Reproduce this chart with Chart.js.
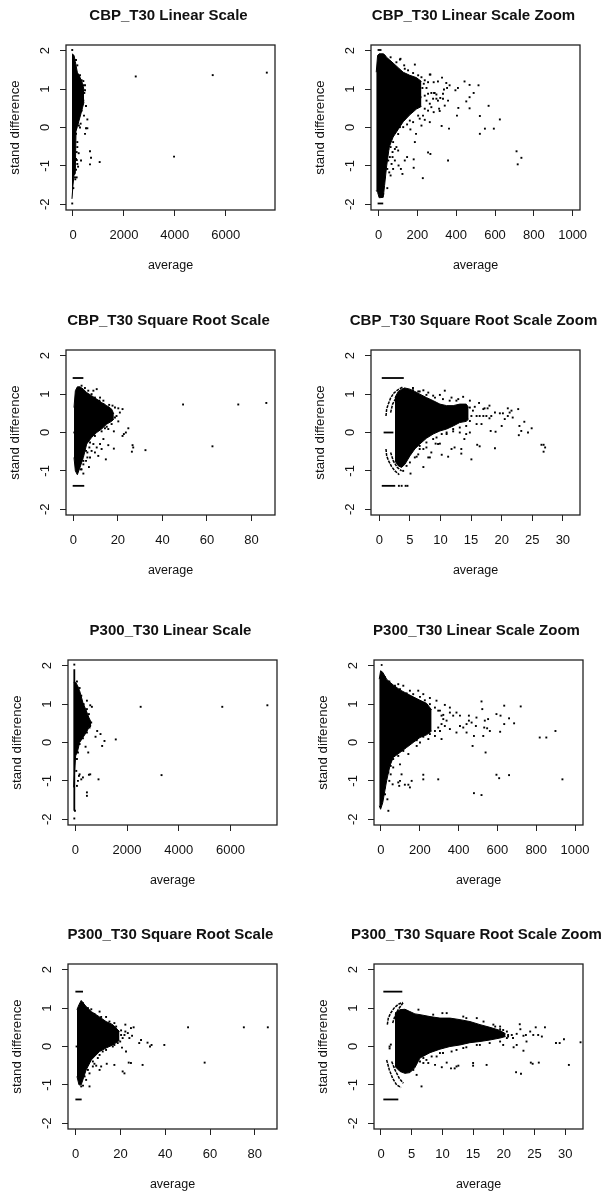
<!DOCTYPE html>
<html>
<head>
<meta charset="utf-8">
<title>Stand difference vs average</title>
<script src="https://cdn.jsdelivr.net/npm/chart.js@4"></script>
<style>
	html, body { margin: 0; padding: 0; background: #fff; overflow: hidden; }
	body { position: relative; width: 606px; height: 1192px; }
	canvas { position: absolute; filter: blur(0.35px); }
</style>
</head>
<body>
<script>
// ============= Data =============

const yTicks = [ -2, -1, 0, 1, 2 ];
const linearTicks = [ 0, 2000, 4000, 6000 ];
const linearZoomTicks = [ 0, 200, 400, 600, 800, 1000 ];
const sqrtTicks = [ 0, 20, 40, 60, 80 ];
const sqrtZoomTicks = [ 0, 5, 10, 15, 20, 25, 30 ];

// Solid part of each cloud: x, upper edge, lower edge
const cbpLinearX = [ -40, 0, 40, 90, 118, 170, 275, 380, 432 ];
const cbpLinearTop = [ 1.92, 1.9, 1.88, 1.72, 1.62, 1.44, 1.31, 1.14, 0.97 ];
const cbpLinearLow = [ -1.86, -1.5, -1.25, -1.2, -0.1, 0.02, 0.27, 0.53, 0.66 ];
const cbpLinearPoints = [
	[2465, 1.33], [5490, 1.365], [7615, 1.43], [3970, -0.76], [668, -0.62], [708, -0.79], [668, -0.96], [1048, -0.9],
	[315, -0.86], [223, -0.67], [170, -0.38], [144, -1.3], [13, -1.58], [511, -0.02], [564, -0.02], [564, 0.21],
	[472, -0.165], [275, 0], [118, -0.165], [511, 0.56], [432, 0.31], [445, 0.9], [406, 1.21], [472, 1.1], [406, 0.7],
	[340, 0.44], [-30, 2.02], [-30, -1.98], [150, -0.85], [120, -1.1], [200, -1.02], [90, -1.35], [300, 0.1], [230, 0.05],
	[340, 1.23], [406, 1.1], [472, 0.97], [275, 1.36], [170, 1.62], [118, 1.76], [340, 0.79], [275, 0.4], [210, 0.27],
	[170, 0.1], [118, -0.03], [170, -0.51], [144, -0.64], [118, -0.82], [170, -0.95], [79, -1.3]
];

const cbpLinearZoomX = [ -12, -5, 3, 24, 31, 41, 55, 75, 101, 127, 161, 195, 221 ];
const cbpLinearZoomTop = [ 1.44, 1.88, 1.92, 1.92, 1.9, 1.83, 1.77, 1.68, 1.56, 1.44, 1.36, 1.3, 1.2 ];
const cbpLinearZoomLow = [ -1.64, -1.69, -1.83, -1.82, -1.51, -1.03, -0.51, -0.25, -0.05, 0.15, 0.33, 0.48, 0.55 ];
const cbpLinearZoomPoints = [
	[515, 1.1], [469, 1.11], [443, 1.2], [490, 0.9], [469, 0.79], [452, 0.68], [469, 0.5], [411, 0.51], [404, 0.31],
	[567, 0.565], [522, 0.3], [625, 0.21], [548, -0.03], [594, -0.03], [522, -0.165], [363, -0.03], [325, 0.04],
	[711, -0.62], [736, -0.79], [717, -0.96], [358, -0.86], [228, -1.32], [255, -0.65], [267, -0.69], [181, -0.83],
	[181, -1.05], [187, -0.38], [193, -0.165], [123, -1.21], [45, -1.58], [147, -0.77], [135, -0.86], [103, -0.99],
	[115, -1.08], [187, 1.64], [110, 1.77], [132, 1.62], [327, 1.3], [306, 1.2], [284, 1.18], [264, 1.38], [349, 1.16],
	[366, 1.1], [409, 1.03], [396, 0.97], [337, 0.99], [289, 0.9], [238, 1.23], [255, 1.18], [233, 1.14], [247, 1.03],
	[267, 1.38], [255, 0.88], [272, 0.9], [238, 0.83], [247, 0.7], [264, 0.62], [272, 0.53], [238, 0.49], [284, 0.4],
	[229, 0.31], [255, 0.44], [264, 0.14], [238, 0.2], [212, 0.23], [221, 0.05], [178, 0.14], [204, 0.31], [161, 0.18],
	[147, 0.08], [127, 0.01], [110, 0.01], [164, -0.05], [101, -0.17], [75, -0.38], [286, 0.9], [298, 0.86], [281, 0.75],
	[298, 0.75], [306, 0.7], [318, 0.77], [332, 0.88], [312, 0.49], [315, 0.43], [341, 0.57], [358, 0.7], [332, 0.75],
	[353, 1.03], [41, -0.43], [50, -0.56], [62, -0.51], [72, -0.64], [84, -0.56], [92, -0.51], [101, -0.6], [45, -1.08],
	[55, -1.17], [62, -1.25], [84, -0.86], [75, -1.08], [67, -0.95], [50, -0.86], [33, -1.02], [41, -0.77], [58, -0.77], [72, -0.77],
	[62, 1.83], [92, 1.7], [113, 1.79], [135, 1.53], [152, 1.49], [178, 1.42], [204, 1.36], [221, 1.31], [209, 1.18],
	[226, 1.03], [216, 0.79], [204, 0.66], [187, 0.55], [158, 0.44], [135, 0.31], [113, 0.23], [92, 0.11], [79, -0.03],
	[62, -0.25], [50, -0.43], [41, -0.6], [38, -0.86], [33, -1.3], [24, -1.73]
];
const cbpLinearZoomRuns = [
	[[-5, 2.02], [15, 2.02]],
	[[-5, -1.98], [24, -1.98]]
];

const cbpSqrtX = [ 0.3, 0.9, 1.8, 3, 4.5, 6, 8.2, 10.5, 12.7, 15, 17.2, 18.2 ];
const cbpSqrtTop = [ 0.65, 1.09, 1.19, 1.19, 1.13, 1.04, 0.96, 0.87, 0.78, 0.7, 0.61, 0.48 ];
const cbpSqrtLow = [ -0.65, -1, -1.1, -0.91, -0.65, -0.3, -0.13, 0, 0.09, 0.22, 0.29, 0.35 ];
const cbpSqrtPoints = [
	[49.3, 0.73], [74.1, 0.73], [86.7, 0.77], [62.5, -0.36], [32.4, -0.46], [26.6, -0.33], [26.9, -0.39], [26.3, -0.5],
	[18.2, -0.42], [14.6, -0.7], [15.7, -0.33], [7, -0.9], [4.5, -1.07], [24.7, 0.11], [23.6, 0], [22.1, -0.09],
	[22.7, -0.04], [22.1, 0.61], [20.2, 0.63], [20.9, 0.52], [18.7, 0.65], [19.4, 0.43], [20.2, 0.29], [18.2, 0.03],
	[15.7, 0.09], [14.2, 0.11], [13.5, -0.17], [12, -0.3], [10.5, -0.39], [9, -0.3], [9.7, -0.52], [11.2, -0.61],
	[7.5, -0.65], [6.3, -0.65], [8.2, -0.48], [12.7, -0.43], [10.5, 1.13], [9, 1.09], [12, 0.91], [13.5, 0.83],
	[16.1, 0.72], [17.6, 0.7], [4.5, -0.83], [3.7, -0.96], [5.7, -0.74], [6.3, -0.52], [7.2, -0.39],
	[3.7, 1.22], [5.2, 1.16], [6.7, 1.09], [8.2, 1], [9.7, 0.91], [11.7, 0.83], [13.5, 0.74], [15.7, 0.65], [17.2, 0.52],
	[18.7, 0.39], [17.2, 0.22], [15, 0.15], [12.7, 0.03], [9.7, -0.09], [7.5, -0.26], [5.7, -0.48], [4.5, -0.74], [3.4, -0.96]
];
const cbpSqrtRuns = [
	[[-0.3, 1.42], [4.5, 1.42]],
	[[-0.3, -1.39], [4.9, -1.39]],
	[[0, 0], [1.5, 0]]
];

const cbpSqrtZoomX = [ 2.55, 3.1, 3.64, 4.18, 5, 5.8, 6.63, 7.7, 8.8, 9.9, 11, 12.07, 13.15, 14.2, 14.6 ];
const cbpSqrtZoomTop = [ 0.91, 1.07, 1.13, 1.16, 1.13, 1.07, 1, 0.91, 0.83, 0.74, 0.7, 0.7, 0.74, 0.74, 0.65 ];
const cbpSqrtZoomLow = [ -0.74, -0.87, -0.91, -0.83, -0.61, -0.43, -0.3, -0.15, -0.04, 0.04, 0.09, 0.17, 0.26, 0.29, 0.35 ];
const cbpSqrtZoomPoints = [
	[26.85, -0.32], [26.5, -0.32], [27.1, -0.39], [26.85, -0.5], [24.9, 0.11], [24.3, 0], [23.7, 0.28], [22.9, 0.17],
	[23.2, 0.04], [22.8, -0.07], [22.7, 0.61], [21, 0.63], [21.3, 0.52], [21.6, 0.57], [21.8, 0.39], [21, 0.43],
	[20.2, 0.5], [19.7, 0.5], [18.9, 0.52], [20.5, 0.35], [20, 0.17], [19, 0.02], [18.2, 0.04], [18.9, -0.41], [18, 0.7],
	[17.2, 0.63], [17.7, 0.63], [17, 0.61], [16.3, 0.77], [15.6, 0.67], [15.9, 0.43], [16.4, 0.43], [17, 0.43],
	[17.5, 0.43], [18.3, 0.43], [18, 0.37], [15.9, 0.22], [16.7, 0.22], [15.05, -0.7], [16, -0.32], [16.4, -0.36],
	[13.4, -0.43], [13.4, -0.55], [12.3, -0.39], [11.8, -0.43], [11.25, -0.63], [10.2, -0.58], [9.6, -0.3], [9.9, -0.29],
	[9.2, -0.29], [8.5, -0.52], [8, -0.65], [7.2, -0.9], [5.1, -1.07], [6.36, -0.57], [6.6, -0.35], [7.2, -0.43],
	[7.7, -0.39], [8.26, -0.65], [6.1, -0.63], [13.9, -0.17], [14.2, -0.04], [14.8, 0], [13.15, 0], [12.07, 0.03],
	[11, -0.04], [10.2, -0.04], [9.35, -0.13], [10.7, 1.09], [9.9, 0.98], [13.7, 0.93], [11.8, 0.91], [7.2, 1.1],
	[5.5, 1.16], [6.36, 1.07], [8, 1.04], [8.8, 0.96], [12.6, 0.83], [14.8, 0.83], [3.2, -1.39], [3.65, -1.39], [4.3, -1.39], [4.6, -1.39],
	[11.5, 0.83], [12.9, 0.87], [10.4, 0.87], [9.1, 0.91], [7.7, 0.98], [6.6, 1.07], [5.5, 1.1], [14.8, 0.65], [15.3, 0.57],
	[15.05, 0.43], [14.8, 0.3], [14.2, 0.17], [13.15, 0.13], [12.07, 0.09], [11, 0], [8.8, -0.17], [7.7, -0.26], [6.6, -0.43],
	[5.8, -0.65], [5, -0.78], [4.45, -0.87], [3.9, -1]
];
const cbpSqrtZoomRuns = [
	[[0.4, 1.42], [4, 1.42]],
	[[0.4, -1.39], [2.6, -1.39]],
	[[0.7, 0], [2.3, 0]]
];
const cbpSqrtZoomArcs = [
	[[1.09, 0.43], [1.2, 0.61], [1.47, 0.74], [1.85, 0.9], [2.39, 1.03], [3.1, 1.12], [3.91, 1.19]],
	[[1.09, -0.43], [1.2, -0.61], [1.52, -0.74], [2.01, -0.89], [2.55, -1], [3.26, -1.1]],
	[[1.85, 0.52], [2.17, 0.74], [2.83, 0.93], [3.64, 1.07], [4.18, 1.16]],
	[[1.85, -0.52], [2.28, -0.74], [2.93, -0.91], [3.64, -1]]
];

const p300LinearX = [ -64, 13, 90, 167, 295, 423, 526, 615 ];
const p300LinearTop = [ 1.57, 1.57, 1.48, 1.35, 1.04, 0.83, 0.65, 0.52 ];
const p300LinearLow = [ -1.17, -0.35, -0.22, 0, 0.13, 0.26, 0.39, 0.43 ];
const p300LinearPoints = [
	[2526, 0.93], [5680, 0.93], [7423, 0.97], [3333, -0.85], [1564, 0.08], [1128, 0.04], [974, 0.22], [846, 0.3],
	[782, 0.15], [1038, -0.09], [897, -0.96], [526, -0.84], [577, -0.83], [449, -1.3], [449, -1.39], [-13, -1.78],
	[-38, -1.98], [-38, 2.03], [449, 1.09], [577, 0.97], [641, 0.93], [449, 0.87], [526, 0.74], [397, -0.11], [500, -0.26],
	[167, -0.83], [231, -0.96], [103, -1], [141, -0.87], [295, -0.91], [64, -1.13],
	[64, 1.59], [167, 1.42], [231, 1.22], [321, 1], [397, 0.83], [487, 0.65], [615, 0.52], [551, 0.39], [449, 0.26],
	[295, 0.11], [167, -0.04], [103, -0.26], [64, -0.43], [38, -0.74]
];
const p300LinearRuns = [
	[[-38, 1.91], [-38, -1.78]]
];

const p300LinearZoomX = [ -9, -2, 9, 29, 46, 63, 98, 132, 166, 201, 235, 261 ];
const p300LinearZoomTop = [ 1.65, 1.87, 1.83, 1.65, 1.57, 1.5, 1.37, 1.28, 1.19, 1.1, 1.02, 0.85 ];
const p300LinearZoomLow = [ -1.65, -1.74, -1.57, -1, -0.61, -0.39, -0.26, -0.13, 0, 0.13, 0.2, 0.3 ];
const p300LinearZoomPoints = [
	[518, 1.07], [522, 0.87], [635, 0.96], [720, 0.94], [595, 0.74], [616, 0.7], [660, 0.63], [635, 0.48], [686, 0.5],
	[614, 0.28], [552, 0.61], [535, 0.57], [532, 0.39], [547, 0.37], [561, 0.3], [527, 0.17], [479, 0.17], [472, -0.09],
	[539, -0.26], [489, 0.43], [453, 0.57], [453, 0.7], [492, 0.65], [467, 0.52], [441, 0.48], [407, 0.43], [424, 0.39],
	[441, 0.26], [818, 0.13], [852, 0.13], [899, 0.3], [935, -0.96], [595, -0.84], [609, -0.93], [660, -0.85], [479, -1.32],
	[518, -1.37], [295, -0.96], [218, -0.84], [218, -0.96], [158, -1], [149, -1.17], [123, -1.1], [98, -1], [106, -0.83],
	[89, -1.04], [38, -1.78], [33, -1.48], [94, -1.13], [141, -1.1], [192, 1.35], [149, 1.35], [115, 1.48], [89, 1.52],
	[218, 1.26], [252, 1.16], [286, 1.09], [329, 0.98], [355, 0.91], [304, 0.83], [321, 0.72], [355, 0.78], [389, 0.78],
	[372, 0.7], [407, 0.7], [338, 0.57], [355, 0.35], [389, 0.26], [329, 0.43], [304, 0.3], [312, 0.09], [278, 0.17],
	[244, 0.09], [201, 0], [184, -0.09], [141, -0.3], [98, -0.57], [63, -0.65], [50, -0.83], [43, -1], [60, -1.09],
	[21, 1.7], [43, 1.59], [72, 1.48], [98, 1.39], [132, 1.28], [166, 1.26], [201, 1.19], [226, 1.1], [252, 1], [278, 0.91],
	[295, 0.83], [312, 0.7], [321, 0.61], [312, 0.48], [295, 0.39], [278, 0.3], [252, 0.22], [218, 0.15], [184, 0.06],
	[149, -0.04], [115, -0.22], [89, -0.35], [63, -0.43], [50, -0.61], [38, -0.78], [21, -1.17], [21, -1.35]
];
const p300LinearZoomRuns = [
	[[-1, 2.02], [8, 2.02]],
	[[-4, -1.99], [0, -1.99]]
];

const p300SqrtX = [ 0.6, 1.5, 2.5, 4.7, 7, 10.7, 13.6, 16.6, 19.6 ];
const p300SqrtTop = [ 0.96, 1.09, 1.2, 1.04, 0.91, 0.77, 0.65, 0.57, 0.39 ];
const p300SqrtLow = [ -0.78, -1, -1, -0.61, -0.35, -0.13, -0.04, 0.04, 0.16 ];
const p300SqrtPoints = [
	[50.2, 0.5], [75.1, 0.5], [85.8, 0.5], [57.6, -0.42], [39.6, 0.04], [33.9, 0.04], [33.2, 0], [32.1, 0.1], [29.2, 0.17],
	[28.4, 0.09], [29.9, -0.48], [24.7, -0.43], [23.7, -0.42], [21.8, -0.7], [21, -0.65], [22.5, -0.13], [20.7, -0.03],
	[22.2, 0.57], [22.2, 0.39], [24.7, 0.48], [25.9, 0.5], [25.2, 0.28], [24, 0.22], [21.8, 0.3], [23.3, 0.35], [21, 0.22],
	[17.3, -0.48], [13.9, -0.45], [11.4, -0.52], [10.7, -0.61], [9.2, -0.5], [8.4, -0.45], [6.2, -1.04], [3.3, -1.02],
	[4.7, -0.87], [6.2, -0.7], [7.7, -0.52], [9.9, -0.3], [12.1, -0.13], [16.6, 0], [18.8, 0.09], [20.3, 0.3], [10.7, 0.91],
	[13.6, 0.77], [17.3, 0.61], [7, 0.97],
	[3.3, 1.13], [5.5, 1], [8.4, 0.85], [11.4, 0.77], [15.1, 0.65], [18.1, 0.52], [20.3, 0.42], [19.9, 0.13], [17.3, 0.04],
	[13.6, -0.09], [10.7, -0.22], [7.7, -0.39], [5.5, -0.61], [4, -0.78], [2.5, -1.04]
];
const p300SqrtRuns = [
	[[-0.1, 1.43], [3.3, 1.43]],
	[[-0.1, -1.38], [2.7, -1.38]],
	[[0, 0], [1.5, 0]]
];

const p300SqrtZoomX = [ 2.28, 3.09, 3.91, 4.72, 5.53, 6.35, 7.98, 9.6, 11.23, 12.86, 14.49, 16.12, 17.74, 19.37, 20.29 ];
const p300SqrtZoomTop = [ 0.87, 0.96, 0.97, 0.91, 0.85, 0.83, 0.78, 0.74, 0.74, 0.7, 0.65, 0.57, 0.5, 0.42, 0.33 ];
const p300SqrtZoomLow = [ -0.52, -0.65, -0.7, -0.68, -0.55, -0.3, -0.16, -0.07, 0, 0.04, 0.1, 0.13, 0.17, 0.22, 0.26 ];
const p300SqrtZoomPoints = [
	[32.5, 0.11], [29.8, 0.19], [29.1, 0.09], [28.5, 0.09], [30.6, -0.48], [25.7, -0.42], [24.4, -0.42], [24.7, -0.45],
	[22.8, -0.71], [22, -0.67], [23.2, -0.11], [21.6, -0.02], [22.6, 0.58], [22.7, 0.45], [25.2, 0.5], [26.7, 0.5],
	[24.3, 0.39], [24.8, 0.3], [25.6, 0.3], [26.2, 0.26], [23.6, 0.3], [23.2, 0.28], [22.1, 0.33], [21.3, 0.3], [21.5, 0.22],
	[20.7, 0.26], [19.9, 0.35], [19.4, 0.45], [18.6, 0.52], [17.2, -0.48], [15, -0.43], [15, -0.5], [12.6, -0.5], [12.3, -0.52],
	[12, -0.57], [11.4, -0.57], [10.7, -0.42], [9.9, -0.54], [8.8, -0.48], [7.7, -0.43], [6.6, -1.04], [6.9, -0.43],
	[6.35, -0.39], [5.8, -0.74], [5.26, -0.61], [10, 0.87], [6.1, 0.96], [8.5, 0.83], [13.9, 0.74], [22.1, 0.04], [23.7, 0.13],
	[19.9, 0.04], [16.1, 0.04], [13.9, -0.02], [11.5, -0.13], [9.6, -0.17], [8.25, -0.26], [1.4, 0], [1.6, 0.05], [1.4, -0.05],
	[10.7, 0.87], [13.4, 0.78], [15.6, 0.74], [16.7, 0.65], [18.3, 0.57], [19.4, 0.52], [19.9, 0.43], [20.5, 0.39], [20.7, 0.3],
	[6.9, -0.3], [7.4, -0.35], [9.06, -0.26], [10.1, -0.17], [12.3, -0.09], [13.4, -0.04], [15.6, 0.04], [17.7, 0.09], [19.4, 0.13], [20.5, 0.22]
];
const p300SqrtZoomRuns = [
	[[0.38, 1.43], [3.47, 1.43]],
	[[0.38, -1.38], [2.82, -1.38]]
];
const p300SqrtZoomArcs = [
	[[1.03, 0.57], [1.19, 0.74], [1.57, 0.87], [2.12, 1], [2.82, 1.1], [3.53, 1.15]],
	[[1.9, 0.61], [2.28, 0.8], [2.82, 0.97], [3.64, 1.15]],
	[[0.92, -0.35], [1.36, -0.61], [1.9, -0.83], [2.55, -1], [3.26, -1.07]],
	[[1.74, -0.39], [2.28, -0.61], [2.98, -0.83], [3.64, -0.96]]
];

// ============= Utility =============

const FONT = "'Liberation Sans', Arial, sans-serif";
const INK = "#000";
const LINE = "#222";

const framePlugin = {
	id: "frame",
	afterDraw(chart)
	{
		const { ctx, chartArea: a } = chart;
		ctx.save();
		ctx.strokeStyle = LINE;
		ctx.lineWidth = 1.3;
		ctx.strokeRect(a.left, a.top, a.right - a.left, a.bottom - a.top);
		ctx.restore();
	}
};

function toXY(pairs)
{
	return pairs.map(([ x, y ]) => ({ x, y }));
}

function lineDataset(pairs, extra)
{
	return { type: "line", data: toXY(pairs), borderColor: INK, borderWidth: 1.8, pointRadius: 0, tension: 0, fill: false, ...extra };
}

function createPanel(panel)
{
	const canvas = document.createElement("canvas");
	canvas.width = 337;
	canvas.height = 290;
	canvas.style.left = (panel.left - 66) + "px";
	canvas.style.top = (panel.top - 45) + "px";
	document.body.appendChild(canvas);

	const upper = panel.x.map((x, i) => [ x, panel.upper[i] ]);
	const lower = panel.x.map((x, i) => [ x, panel.lower[i] ]);

	const datasets = [
		lineDataset(upper, { borderWidth: 1, fill: "+1", backgroundColor: INK }),
		lineDataset(lower, { borderWidth: 1 }),
		{ type: "scatter", data: toXY(panel.points), backgroundColor: INK, borderWidth: 0, pointStyle: "rect", pointRadius: 1.35 }
	];

	for (const run of panel.runs || []) datasets.push(lineDataset(run));
	for (const arc of panel.arcs || []) datasets.push(lineDataset(arc, { borderWidth: 1.5, borderDash: [ 3, 1 ] }));

	return new Chart(canvas, {
		data: { datasets },
		plugins: [ framePlugin ],
		options: {
			responsive: false,
			animation: false,
			devicePixelRatio: 1,
			plugins: {
				legend: { display: false },
				tooltip: { enabled: false },
				title: {
					display: true,
					text: panel.title,
					color: "#111",
					font: { family: FONT, size: 15, weight: "bold", lineHeight: "14px" },
					padding: { top: 9, bottom: 22 }
				}
			},
			scales: {
				x: {
					type: "linear",
					min: panel.xMin,
					max: panel.xMax,
					afterBuildTicks: scale => { scale.ticks = panel.ticks.map(value => ({ value })); },
					afterFit: scale => { scale.height = 80; },
					border: { display: false },
					grid: { drawOnChartArea: false, color: LINE, tickLength: 6 },
					ticks: { color: "#111", font: { family: FONT, size: 13 }, padding: 12, autoSkip: false, maxRotation: 0, callback: v => String(v) },
					title: { display: true, text: "average", color: "#111", font: { family: FONT, size: 12.5, lineHeight: "12px" }, padding: { top: 0, bottom: 18 } }
				},
				y: {
					type: "linear",
					min: -2.15,
					max: 2.15,
					afterBuildTicks: scale => { scale.ticks = yTicks.map(value => ({ value })); },
					afterFit: scale => { scale.width = 66; },
					border: { display: false },
					grid: { drawOnChartArea: false, color: LINE, tickLength: 6 },
					ticks: { color: "#111", font: { family: FONT, size: 13 }, padding: 9, autoSkip: false, minRotation: 90, maxRotation: 90, crossAlign: "center", callback: v => String(v) },
					title: { display: true, text: "stand difference", color: "#111", font: { family: FONT, size: 13.3, lineHeight: "12px" }, padding: { top: 9, bottom: 0 } }
				},
				// empty right-hand margin, keeps the title centred near the plot
				margin: {
					type: "linear",
					position: "right",
					afterFit: scale => { scale.width = 62; },
					border: { display: false },
					grid: { display: false },
					ticks: { display: false }
				}
			}
		}
	});
}

// ============= Panels =============

createPanel({ title: "CBP_T30 Linear Scale", left: 66, top: 45, xMin: -275, xMax: 7937, ticks: linearTicks, x: cbpLinearX, upper: cbpLinearTop, lower: cbpLinearLow, points: cbpLinearPoints });
createPanel({ title: "CBP_T30 Linear Scale Zoom", left: 371, top: 45, xMin: -39, xMax: 1038, ticks: linearZoomTicks, x: cbpLinearZoomX, upper: cbpLinearZoomTop, lower: cbpLinearZoomLow, points: cbpLinearZoomPoints, runs: cbpLinearZoomRuns });
createPanel({ title: "CBP_T30 Square Root Scale", left: 66, top: 350, xMin: -3.3, xMax: 90.6, ticks: sqrtTicks, x: cbpSqrtX, upper: cbpSqrtTop, lower: cbpSqrtLow, points: cbpSqrtPoints, runs: cbpSqrtRuns });
createPanel({ title: "CBP_T30 Square Root Scale Zoom", left: 371, top: 350, xMin: -1.36, xMax: 32.8, ticks: sqrtZoomTicks, x: cbpSqrtZoomX, upper: cbpSqrtZoomTop, lower: cbpSqrtZoomLow, points: cbpSqrtZoomPoints, runs: cbpSqrtZoomRuns, arcs: cbpSqrtZoomArcs });
createPanel({ title: "P300_T30 Linear Scale", left: 68, top: 660, xMin: -282, xMax: 7795, ticks: linearTicks, x: p300LinearX, upper: p300LinearTop, lower: p300LinearLow, points: p300LinearPoints, runs: p300LinearRuns });
createPanel({ title: "P300_T30 Linear Scale Zoom", left: 374, top: 660, xMin: -36, xMax: 1041, ticks: linearZoomTicks, x: p300LinearZoomX, upper: p300LinearZoomTop, lower: p300LinearZoomLow, points: p300LinearZoomPoints, runs: p300LinearZoomRuns });
createPanel({ title: "P300_T30 Square Root Scale", left: 68, top: 964, xMin: -3.4, xMax: 89.9, ticks: sqrtTicks, x: p300SqrtX, upper: p300SqrtTop, lower: p300SqrtLow, points: p300SqrtPoints, runs: p300SqrtRuns });
createPanel({ title: "P300_T30 Square Root Scale Zoom", left: 374, top: 964, xMin: -1.14, xMax: 32.9, ticks: sqrtZoomTicks, x: p300SqrtZoomX, upper: p300SqrtZoomTop, lower: p300SqrtZoomLow, points: p300SqrtZoomPoints, runs: p300SqrtZoomRuns, arcs: p300SqrtZoomArcs });
</script>
</body>
</html>
